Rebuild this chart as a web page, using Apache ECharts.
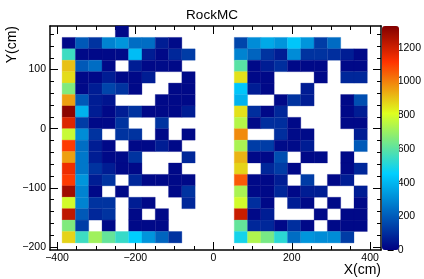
<!DOCTYPE html>
<html>
<head>
<meta charset="utf-8">
<script src="https://cdn.jsdelivr.net/npm/echarts@6/dist/echarts.min.js"></script>
<style>
  html, body { margin: 0; padding: 0; background: #fff; }
  #chart { width: 424px; height: 279px; }
</style>
</head>
<body>
<div id="chart"></div>
<script>
// ---- data (bin centres in cm, contents per bin) ----
const xCentersLeft  = [-370, -336, -302, -268, -234, -200, -166, -132, -98, -64];
const xCentersRight = [70, 104, 138, 172, 206, 240, 274, 308, 342, 376];
const xBinWidth = 34;
const yCenters = [164.05, 144.75, 125.45, 106.15, 86.85, 67.55, 48.25, 28.95, 9.65,
                  -9.65, -28.95, -48.25, -67.55, -86.85, -106.15, -125.45, -144.75, -164.05, -183.35];
const yBinWidth = 19.3;

const zLeft = [
  [0, 0, 0, 0, 20, 0, 0, 0, 0, 0],
  [20, 195, 110, 285, 325, 240, 240, 65, 25, 0],
  [550, 20, 20, 20, 25, 415, 65, 20, 85, 130],
  [904, 195, 240, 20, 0, 65, 20, 25, 20, 0],
  [865, 20, 20, 65, 20, 20, 65, 0, 0, 20],
  [660, 20, 65, 150, 110, 20, 0, 0, 20, 20],
  [954, 195, 65, 45, 0, 0, 0, 20, 20, 20],
  [1313, 390, 65, 20, 65, 110, 20, 20, 20, 65],
  [1177, 130, 20, 20, 110, 0, 0, 110, 0, 0],
  [775, 305, 110, 0, 110, 110, 0, 20, 0, 20],
  [1106, 240, 65, 20, 0, 20, 20, 65, 20, 0],
  [954, 260, 65, 20, 25, 110, 0, 0, 0, 85],
  [1143, 260, 110, 65, 20, 20, 0, 0, 20, 0],
  [1106, 325, 65, 110, 0, 85, 20, 20, 20, 20],
  [1279, 285, 20, 0, 20, 0, 0, 0, 20, 110],
  [792, 285, 110, 110, 0, 65, 20, 0, 0, 85],
  [1228, 195, 85, 110, 0, 20, 0, 20, 0, 0],
  [660, 130, 0, 20, 0, 20, 20, 20, 0, 0],
  [878, 550, 711, 613, 540, 450, 325, 220, 110, 0]
];
const zRight = [
  [0, 0, 0, 0, 0, 0, 0, 0, 0, 0],
  [150, 305, 370, 325, 435, 325, 130, 235, 0, 0],
  [285, 220, 110, 65, 305, 110, 110, 100, 65, 20],
  [597, 20, 65, 100, 20, 20, 20, 0, 20, 20],
  [856, 20, 20, 0, 0, 0, 20, 0, 85, 85],
  [435, 65, 20, 0, 0, 65, 0, 0, 0, 0],
  [390, 0, 0, 20, 110, 65, 0, 0, 20, 170],
  [856, 100, 20, 85, 0, 0, 0, 0, 20, 65],
  [744, 20, 100, 100, 20, 0, 0, 0, 20, 20],
  [985, 0, 0, 100, 25, 25, 0, 0, 0, 65],
  [727, 130, 130, 25, 25, 65, 0, 0, 0, 195],
  [924, 20, 20, 170, 0, 20, 25, 0, 20, 0],
  [878, 0, 85, 130, 20, 0, 0, 0, 20, 85],
  [1058, 20, 20, 65, 0, 130, 0, 20, 65, 0],
  [727, 20, 20, 85, 20, 65, 65, 0, 0, 65],
  [792, 100, 20, 0, 65, 20, 0, 20, 0, 20],
  [1210, 20, 65, 0, 0, 0, 20, 0, 20, 20],
  [613, 85, 85, 20, 100, 20, 0, 20, 20, 20],
  [485, 735, 647, 520, 240, 325, 305, 305, 130, 0]
];

const xTickLabels = [-400, -200, 0, 200, 400];
const yTickLabels = [-200, -100, 0, 100];
const zTickLabels = [0, 200, 400, 600, 800, 1000, 1200];
const zMax = 1330;
const xRange = [-418, 428];
const yRange = [-205, 173.7];

// ---- build cells ----
const cells = [];
function addBlock(z, xs) {
  z.forEach((row, r) => row.forEach((v, c) => {
    if (v > 0) cells.push([xs[c], yCenters[r], v]);
  }));
}
addBlock(zLeft, xCentersLeft);
addBlock(zRight, xCentersRight);

// ---- palette (gradient stops) ----
const stops = [0, 0.34, 0.61, 0.84, 1];
const pr = [0, 0, 0.87, 1, 0.51], pg = [0, 0.81, 1, 0.2, 0], pb = [0.51, 1, 0.12, 0, 0];
function palette(n) {
  const out = [];
  for (let i = 0; i < n; i++) {
    const t = i / (n - 1);
    let k = 0;
    while (k < stops.length - 2 && t > stops[k + 1]) k++;
    const f = (t - stops[k]) / (stops[k + 1] - stops[k]);
    const c = (a) => Math.round(255 * (a[k] + (a[k + 1] - a[k]) * f));
    out.push('rgb(' + c(pr) + ',' + c(pg) + ',' + c(pb) + ')');
  }
  return out;
}

function minorVals(a, b, step) { const o = []; for (let v = a; v <= b + 1e-9; v += step) o.push(v); return o; }
const xMinor = minorVals(-400, 400, 50);
const yMinor = minorVals(-200, 160, 20);

const FONT = 'Liberation Sans, Arial, Helvetica, sans-serif';
const fmt = (v) => (v < 0 ? '\u2212' + (-v) : String(v));

function xAx(pos, ticks, len, labels, line) {
  return {
    type: 'value', gridIndex: 0, position: pos, min: xRange[0], max: xRange[1],
    splitLine: { show: false },
    axisLine: { show: line, onZero: false, lineStyle: { color: '#000', width: 1.5 } },
    axisTick: { show: true, inside: true, length: len, customValues: ticks, lineStyle: { color: '#000', width: 1 } },
    axisLabel: labels ? { show: true, customValues: xTickLabels, formatter: fmt, color: '#000', fontFamily: FONT, fontSize: 10.5, margin: 3 } : { show: false }
  };
}
function yAx(pos, ticks, len, labels, line) {
  return {
    type: 'value', gridIndex: 0, position: pos, min: yRange[0], max: yRange[1],
    splitLine: { show: false },
    axisLine: { show: line, onZero: false, lineStyle: { color: '#000', width: 1.5 } },
    axisTick: { show: true, inside: true, length: len, customValues: ticks, lineStyle: { color: '#000', width: 1 } },
    axisLabel: labels ? { show: true, customValues: yTickLabels, formatter: fmt, color: '#000', fontFamily: FONT, fontSize: 10.5, margin: 4 } : { show: false }
  };
}

const chart = echarts.init(document.getElementById('chart'), null, { renderer: 'canvas' });
chart.setOption({
  animation: false,
  backgroundColor: '#fff',
  title: {
    text: 'RockMC', left: 'center', top: 3,
    textStyle: { fontFamily: FONT, fontSize: 13.5, fontWeight: 'normal', color: '#000' }
  },
  grid: [
    { left: 50, top: 26, width: 331, height: 224 },
    { left: 382, top: 26, width: 17, height: 224 }
  ],
  xAxis: [
    xAx('bottom', xTickLabels, 8, true, true),
    xAx('bottom', xMinor, 4, false, false),
    xAx('top', xTickLabels, 8, false, true),
    xAx('top', xMinor, 4, false, false),
    { type: 'value', gridIndex: 1, show: false, min: 0, max: 1 }
  ],
  yAxis: [
    yAx('left', yTickLabels, 8, true, true),
    yAx('left', yMinor, 4, false, false),
    yAx('right', yTickLabels, 8, false, true),
    yAx('right', yMinor, 4, false, false),
    {
      type: 'value', gridIndex: 1, position: 'right', min: 0, max: zMax,
      splitLine: { show: false },
      axisLine: { show: false, onZero: false },
      axisTick: { show: true, inside: true, length: 6, customValues: zTickLabels, lineStyle: { color: '#000', width: 1 } },
      axisLabel: { show: true, customValues: zTickLabels, formatter: (v) => String(v), color: '#000', fontFamily: FONT, fontSize: 10.5, margin: 4 }
    }
  ],
  visualMap: {
    type: 'continuous', min: 0, max: zMax, dimension: 2, seriesIndex: 0,
    calculable: false, show: true, orient: 'vertical',
    left: 382, top: 26, itemWidth: 17, itemHeight: 224, padding: 0,
    inRange: { color: palette(101) }
  },
  graphic: [
    { type: 'text', x: 381, y: 263, style: { text: 'X(cm)', fill: '#000', font: '14px ' + FONT, textAlign: 'right', textVerticalAlign: 'top' } },
    { type: 'text', x: 12, y: 26, rotation: Math.PI / 2, style: { text: 'Y(cm)', fill: '#000', font: '14px ' + FONT, textAlign: 'right', textVerticalAlign: 'middle' } }
  ],
  series: [{
    type: 'custom', coordinateSystem: 'cartesian2d', xAxisIndex: 0, yAxisIndex: 0,
    encode: { x: 0, y: 1 },
    data: cells,
    renderItem: function (params, api) {
      const x = api.value(0), y = api.value(1);
      const p1 = api.coord([x - xBinWidth / 2, y + yBinWidth / 2]);
      const p2 = api.coord([x + xBinWidth / 2, y - yBinWidth / 2]);
      const col = api.visual('color');
      return {
        type: 'rect',
        shape: { x: p1[0], y: p1[1], width: p2[0] - p1[0], height: p2[1] - p1[1] },
        style: { fill: col, stroke: col, lineWidth: 0.3 }
      };
    }
  }]
});
</script>
</body>
</html>
